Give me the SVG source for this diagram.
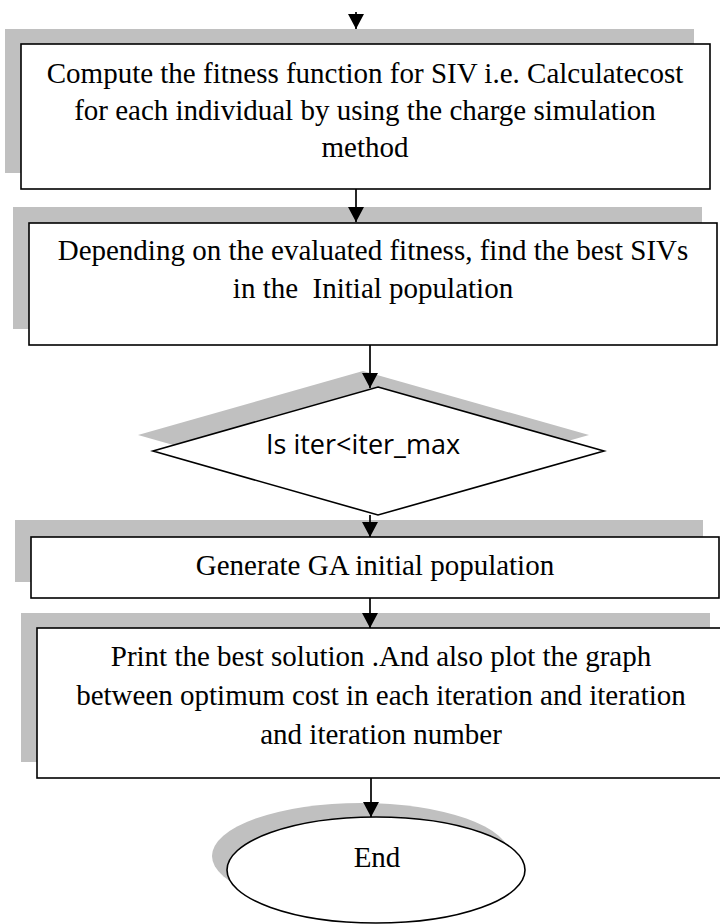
<svg xmlns="http://www.w3.org/2000/svg" width="720" height="924" viewBox="0 0 720 924">
<style>
.sh{fill:#c0c0c0;stroke:none}
.bx{fill:#fff;stroke:#000;stroke-width:1.6}
.t{font-family:"Liberation Serif","Times New Roman",serif;font-size:29px;fill:#000;text-anchor:middle;white-space:pre}
.s{font-family:"Open Sans","Liberation Sans",sans-serif;font-size:27px;fill:#000;text-anchor:middle}
.c{stroke:#000;stroke-width:1.7;fill:none;marker-end:url(#ah)}
</style>
<defs>
<marker id="ah" markerUnits="userSpaceOnUse" markerWidth="16" markerHeight="16" viewBox="0 0 16 16" refX="15" refY="8" orient="auto">
<path d="M0,0 L15,8 L0,16 Z" fill="#000"/>
</marker>
</defs>
<rect width="720" height="924" fill="#fff"/>
<g id="node1">
<rect class="sh" x="5" y="29" width="689" height="144"/>
<rect class="bx" x="21" y="44" width="689" height="145"/>
<text class="t" x="365" y="83">Compute the fitness function for SIV i.e. Calculatecost</text>
<text class="t" x="365" y="120">for each individual by using the charge simulation</text>
<text class="t" x="365" y="157">method</text>
</g>
<g id="node2">
<rect class="sh" x="13" y="207" width="689" height="122"/>
<rect class="bx" x="29" y="223" width="688" height="122"/>
<text class="t" x="373" y="260">Depending on the evaluated fitness, find the best SIVs</text>
<text class="t" x="373" y="298" xml:space="preserve">in the  Initial population</text>
</g>
<g id="node3">
<polygon class="sh" points="363,371 589,435 363,499 138,435"/>
<polygon class="bx" points="378,387 604,451 378,515 153,451"/>
<text class="s" x="363" y="454">Is iter&lt;iter_max</text>
</g>
<g id="node4">
<rect class="sh" x="15" y="520" width="688" height="62"/>
<rect class="bx" x="31" y="537" width="688" height="61"/>
<text class="t" x="375" y="575">Generate GA initial population</text>
</g>
<g id="node5">
<rect class="sh" x="21" y="613" width="689" height="149"/>
<rect class="bx" x="37" y="628" width="689" height="150"/>
<text class="t" x="381" y="666">Print the best solution .And also plot the graph</text>
<text class="t" x="381" y="705">between optimum cost in each iteration and iteration</text>
<text class="t" x="381" y="744">and iteration number</text>
</g>
<g id="node6">
<ellipse class="sh" cx="361" cy="856" rx="149" ry="53"/>
<ellipse class="bx" cx="376" cy="870" rx="149" ry="53"/>
<text class="t" x="377" y="867">End</text>
</g>
<g id="connectors">
<line class="c" x1="356" y1="12" x2="356" y2="29"/>
<line class="c" x1="356" y1="189" x2="356" y2="222"/>
<line class="c" x1="370" y1="345" x2="370" y2="388"/>
<line class="c" x1="370" y1="515" x2="370" y2="537"/>
<line class="c" x1="370" y1="598" x2="370" y2="628"/>
<line class="c" x1="371" y1="778" x2="371" y2="817"/>
</g>
</svg>
